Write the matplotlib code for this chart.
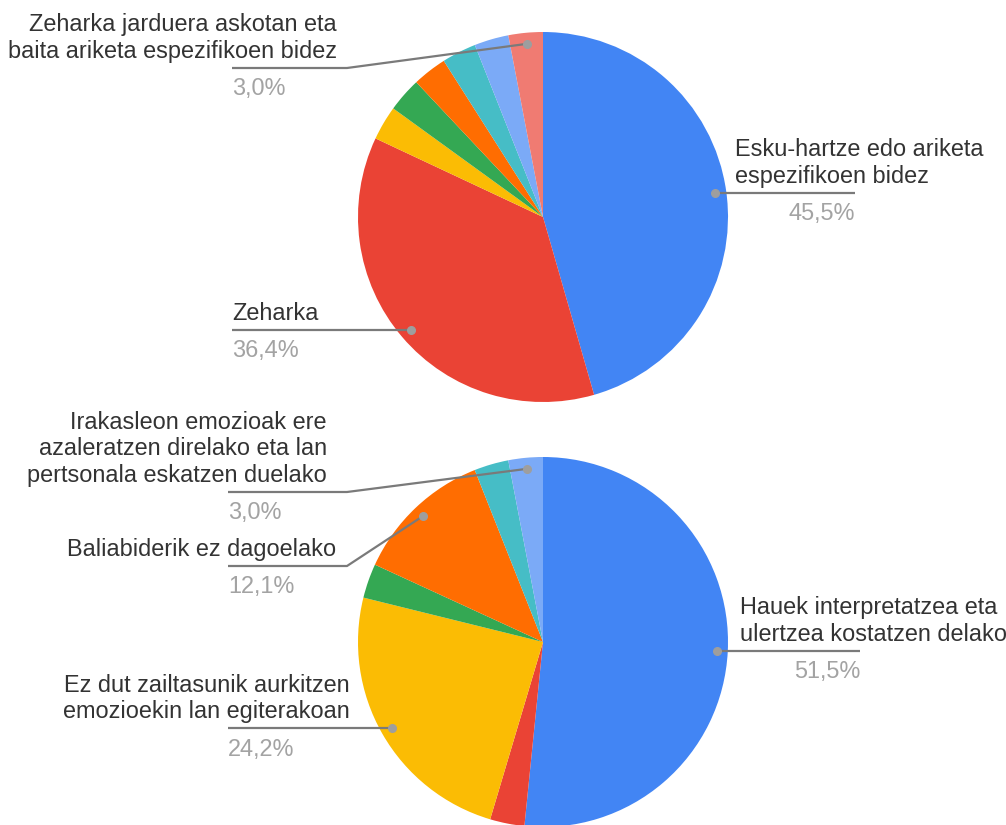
import numpy as np
import matplotlib.pyplot as plt

plt.rcParams['font.family'] = ['Liberation Sans', 'DejaVu Sans']

# top chart
top_values = [45.5, 36.4, 3.0, 3.0, 3.0, 3.0, 3.0, 3.0]
top_labels = ["Esku-hartze edo ariketa\nespezifikoen bidez", "Zeharka", "", "", "", "", "",
              "Zeharka jarduera askotan eta\nbaita ariketa espezifikoen bidez"]
top_colors = ['#4285F4', '#EA4335', '#FBBC04', '#34A853', '#FF6D01', '#46BDC6', '#7BAAF7', '#F07B72']

# bottom chart
bot_values = [51.5, 3.0, 24.2, 3.0, 12.1, 3.0, 3.0]
bot_labels = ["Hauek interpretatzea eta\nulertzea kostatzen delako", "",
              "Ez dut zailtasunik aurkitzen\nemozioekin lan egiterakoan", "",
              "Baliabiderik ez dagoelako", "",
              "Irakasleon emozioak ere\nazaleratzen direlako eta lan\npertsonala eskatzen duelako"]
bot_colors = ['#4285F4', '#EA4335', '#FBBC04', '#34A853', '#FF6D01', '#46BDC6', '#7BAAF7']

# label layout: index -> (side, knee_x or None, line_y or None, end_x, text_x)
top_layout = {0: ('right', None, None, 855, 735),
              1: ('left', None, None, 232, 232),
              7: ('left', 347, 68, 232, 337)}
bot_layout = {0: ('right', None, None, 860, 740),
              2: ('left', None, None, 228, 350),
              4: ('left', 347, 566, 228, 336),
              6: ('left', 347, 492, 228, 327)}

fig = plt.figure(figsize=(10.06, 8.25), dpi=100)
ax = fig.add_axes([0, 0, 1, 1])

FS = 16.9
LINE = '#7a7a7a'
PCT = '#a3a3a3'
TXT = '#333333'


def draw(values, labels, colors, layout, cx, cy, R):
    ax.pie(values, colors=colors, startangle=-90, counterclock=True,
           center=(cx, cy), radius=R, wedgeprops=dict(linewidth=0))
    vals = np.array(values, dtype=float)
    cum = np.cumsum(vals) / vals.sum() * 360
    mids = -90 + cum - vals / vals.sum() * 180
    for i, (side, kx, ly, ex, tx) in layout.items():
        th = np.radians(mids[i])
        px = cx + 0.94 * R * np.cos(th)
        py = cy + 0.94 * R * np.sin(th)
        if kx is None:
            xs, ys = [px, ex], [py, py]
            ly = py
        else:
            xs, ys = [px, kx, ex], [py, ly, ly]
        ax.plot(xs, ys, color=LINE, lw=1.6, solid_capstyle='butt', zorder=3)
        ax.plot(px, py, 'o', ms=5.5, color='#9e9e9e', zorder=4)
        pct = ('%.1f%%' % values[i]).replace('.', ',')
        if side == 'right':
            ax.text(tx, ly - 5, labels[i], ha='left', va='bottom', fontsize=FS,
                    color=TXT, linespacing=1.2)
            ax.text(ex, ly + 21, pct, ha='right', va='center', fontsize=FS, color=PCT)
        else:
            ha = 'left' if tx == ex else 'right'
            ax.text(tx, ly - 5, labels[i], ha=ha, va='bottom', fontsize=FS,
                    color=TXT, linespacing=1.2, multialignment='right' if ha == 'right' else 'left')
            ax.text(ex, ly + 21, pct, ha='left', va='center', fontsize=FS, color=PCT)


draw(top_values, top_labels, top_colors, top_layout, 543, 217, 185)
draw(bot_values, bot_labels, bot_colors, bot_layout, 543, 642, 185)

ax.set_xlim(0, 1006)
ax.set_ylim(825, 0)
ax.set_aspect('equal')
ax.axis('off')

fig.savefig('out.png', dpi=100, facecolor='white')
